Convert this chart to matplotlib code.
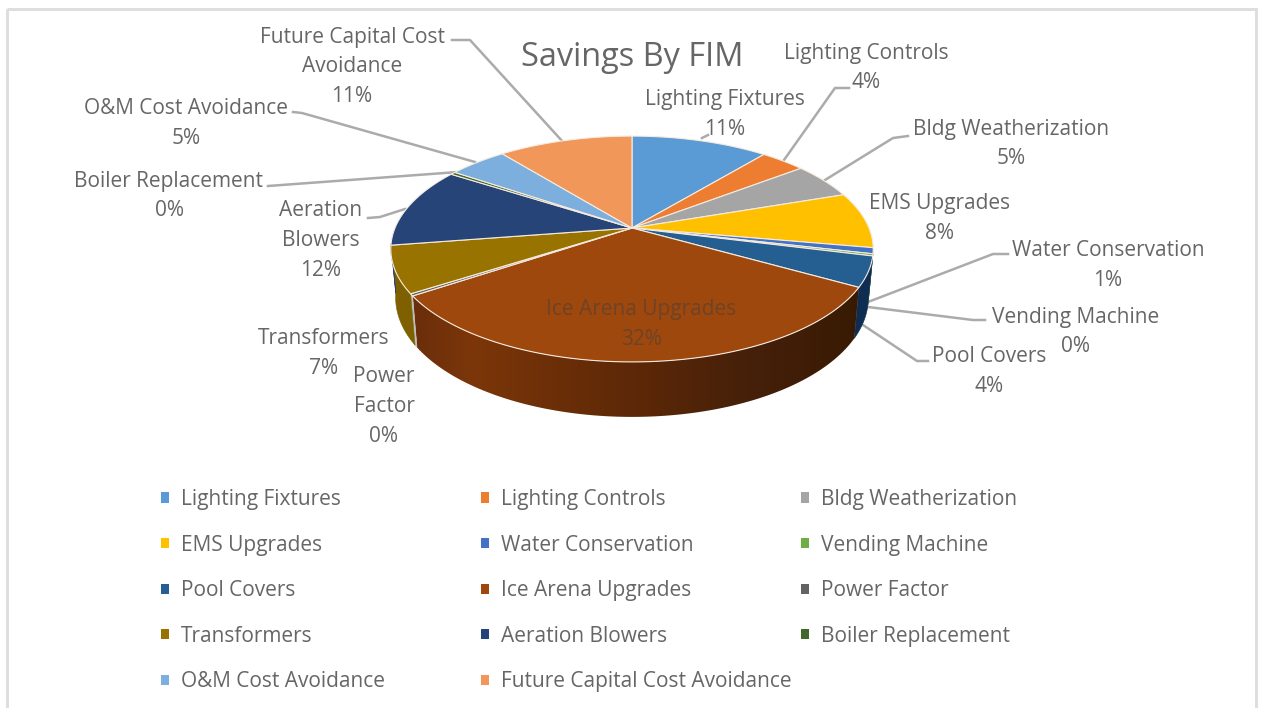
import numpy as np
import matplotlib
matplotlib.use("Agg")
import matplotlib.pyplot as plt
from matplotlib.patches import Polygon, Patch, Rectangle
from matplotlib.colors import LinearSegmentedColormap

plt.rcParams['font.family'] = ['Open Sans', 'DejaVu Sans']

categories = ["Lighting Fixtures", "Lighting Controls", "Bldg Weatherization", "EMS Upgrades",
              "Water Conservation", "Vending Machine", "Pool Covers", "Ice Arena Upgrades",
              "Power Factor", "Transformers", "Aeration Blowers", "Boiler Replacement",
              "O&M Cost Avoidance", "Future Capital Cost Avoidance"]
values = [11.0, 3.6, 5.2, 8.05, 0.85, 0.3, 4.3, 32.4, 0.3, 6.7, 11.6, 0.4, 4.7, 10.8]
colors = ["#5B9BD5", "#ED7D31", "#A5A5A5", "#FFC000", "#4472C4", "#70AD47", "#255E91",
          "#9E480E", "#636363", "#997300", "#264478", "#43682B", "#7CAFDD", "#F1975A"]
wall_colors = {6: "#0F2D52", 8: "#BDBDBD", 9: "#7F6000"}
title = "Savings By FIM"

TXT = "#666666"
FS = 15
LINE = "#ABABAB"

# pie projection (perspective view of a flat disc)
CX, CY, A, B, K = 632.0, 228.0, 237.0, 109.0, 0.186
DEPTH, DEPTH_V, WALL_SCALE = 47.0, 8.0, 0.98


def top(theta):
    u, v = np.sin(theta), np.cos(theta)
    w = 1 + K * v
    return CX + A * u / w, CY - B * v / w


def bottom(theta):
    x, y = top(theta)
    return CX + (x - CX) * WALL_SCALE, y + DEPTH - DEPTH_V * np.cos(theta)


fig = plt.figure(figsize=(12.61, 7.08), dpi=100, facecolor="white")
ax = fig.add_axes([0, 0, 1, 1])

# chart frame
ax.add_patch(Rectangle((7, 9), 1249, 720, fill=False, ec="#DEDEDE", lw=2.2, zorder=0))

edges = np.radians(np.cumsum([0] + values) / sum(values) * 360)
WALL_START, WALL_END = np.radians(103), np.radians(262)
shade = LinearSegmentedColormap.from_list(
    "ice", [(0, "#6A2E0B"), (0.13, "#7C3609"), (0.5, "#5C2807"), (0.75, "#46200A"), (1, "#381A03")])

# side walls
for i, (t0, t1) in enumerate(zip(edges[:-1], edges[1:])):
    a, b = max(t0, WALL_START), min(t1, WALL_END)
    if a >= b:
        continue
    ts = np.linspace(a, b, max(3, int((b - a) / np.radians(1.0))))
    xt, yt = top(ts)
    xb, yb = bottom(ts)
    pts = list(zip(xt, yt)) + list(zip(xb[::-1], yb[::-1]))
    if i == 7:
        x0, x1 = min(xt.min(), xb.min()), max(xt.max(), xb.max())
        grad = np.linspace(0, 1, 512).reshape(1, -1)
        im = ax.imshow(grad, cmap=shade, extent=(x0, x1, yb.max(), yt.min()), aspect="auto", zorder=2,
                       interpolation="bilinear")
        im.set_clip_path(Polygon(pts, closed=True, transform=ax.transData))
    else:
        c = wall_colors.get(i, colors[i])
        ax.add_patch(Polygon(pts, closed=True, fc=c, ec=c, lw=0.4, zorder=2))

# top face
for i, (t0, t1) in enumerate(zip(edges[:-1], edges[1:])):
    ts = np.linspace(t0, t1, max(3, int((t1 - t0) / np.radians(0.5))))
    xs, ys = top(ts)
    pts = [(CX, CY)] + list(zip(xs, ys))
    ax.add_patch(Polygon(pts, closed=True, fc=colors[i], ec="#F6EBE0", lw=0.8, joinstyle="round", zorder=3))

# leader lines
leaders = [
    [(452, 40), (470, 40), (563, 142)],
    [(293, 112), (302, 113), (475, 162)],
    [(268, 186), (458, 172)],
    [(368, 218), (380, 217), (405, 209)],
    [(702, 138), (708, 135)],
    [(849, 88), (835, 88), (784, 160)],
    [(908, 136), (893, 138), (825, 180)],
    [(1008, 254), (993, 254), (868, 302)],
    [(985, 320), (973, 320), (868, 307)],
    [(928, 361), (917, 361), (863, 325)],
]
for seg in leaders:
    ax.plot(*zip(*seg), color=LINE, lw=1.8, solid_joinstyle="round", zorder=1)

# data labels: rounded percentages come from the values
pct = [f"{round(v / sum(values) * 100)}%" for v in values]
label_layout = {
    0: (["Lighting Fixtures"], 725, 100),
    1: (["Lighting Controls"], 866, 53),
    2: (["Bldg Weatherization"], 1011, 129),
    3: (["EMS Upgrades"], 940, 204),
    4: (["Water Conservation"], 1108, 251),
    5: (["Vending Machine"], 1076, 317),
    6: (["Pool Covers"], 989, 357),
    7: (["Ice Arena Upgrades"], 641, 310),
    8: (["Power", "Factor"], 384, 377),
    9: (["Transformers"], 324, 339),
    10: (["Aeration", "Blowers"], 321, 211),
    11: (["Boiler Replacement"], 169, 181),
    12: (["O&M Cost Avoidance"], 186, 109),
    13: (["Future Capital Cost", "Avoidance"], 352, 37),
}
for i, (lines, x, y) in label_layout.items():
    col = "#6E4326" if i == 7 else TXT
    for j, s in enumerate(lines + [pct[i]]):
        ax.text(x, y + j * 29.7, s, ha="center", va="center", fontsize=FS, color=col, zorder=5)

ax.text(632, 57, title, ha="center", va="center", fontsize=23.4, color=TXT, zorder=5)

# legend: three separate columns, as in the source layout
columns = [(range(0, 15, 3), 161), (range(1, 15, 3), 481), (range(2, 14, 3), 801)]
for idx, x in columns:
    idx = [k for k in idx if k < len(categories)]
    handles = [Patch(fc=colors[k], ec="none", label=categories[k]) for k in idx]
    leg = ax.legend(handles=handles, loc="upper left", bbox_to_anchor=(x, 489), bbox_transform=ax.transData,
                    frameon=False, fontsize=FS, handlelength=0.37, handleheight=0.37, handletextpad=0.59,
                    labelspacing=1.18, borderpad=0, borderaxespad=0, labelcolor=TXT)
    ax.add_artist(leg)
ax.legend_ = None

ax.set_xlim(0, 1261)
ax.set_ylim(708, 0)
ax.axis("off")

fig.savefig("out.png", dpi=100, facecolor="white")
